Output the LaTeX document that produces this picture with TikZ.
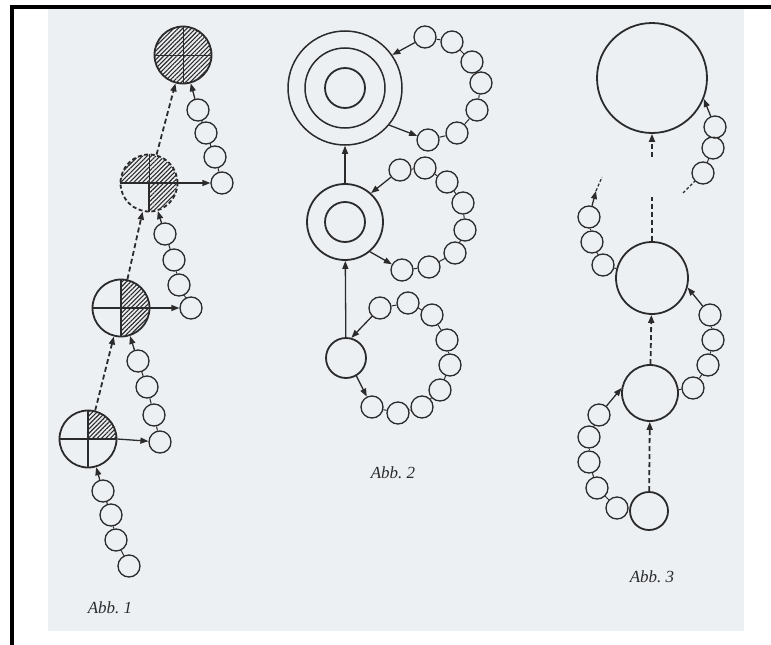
\documentclass[tikz,border=0pt]{standalone}
\usepackage{fontspec}
\newfontfamily\labfont{Liberation Serif}
\usepackage{tikz}
\usetikzlibrary{arrows.meta,positioning,calc,patterns.meta}
\definecolor{paper}{HTML}{EDF0F3}
\definecolor{ink}{HTML}{2B2B2B}

\begin{document}
\begin{tikzpicture}[x=1pt,y=-1pt,line width=1.4pt,
    bead/.style={circle,draw=ink,fill=paper,line width=1.3pt,minimum size=22pt,inner sep=0pt},
    ring/.style={circle,draw=ink,line width=1.8pt,minimum size=#1,inner sep=0pt},
    link/.style={draw=ink,line width=1pt},
    flow/.style={draw=ink,line width=1.3pt,-{Triangle[length=8pt,width=6pt]}},
    dflow/.style={flow,line width=1.8pt,dash pattern=on 5pt off 3pt},
    hatch/.style={pattern={Lines[angle=45,distance=3.1pt,line width=1.1pt]},pattern color=ink},
    lab/.style={text=ink,font=\labfont\fontsize{17}{19}\selectfont\itshape}]
  \useasboundingbox (0,0) rectangle (771,645);
  \fill[paper] (48,9) rectangle (744,631);
  \draw[black,line width=4pt] (12,645) -- (12,7) -- (771,7);

  \foreach \n/\x/\y in {k1/183/55,k3/121/308,k4/88/439}
    \node[ring=57pt] (\n) at (\x,\y) {};
  \node[ring=57pt,dash pattern=on 4pt off 2.5pt] (k2) at (149,183) {};
  \fill[hatch] (k1.center) circle[radius=28];
  \draw[ink,line width=0.6pt] (k1.north) -- (k1.south) (k1.west) -- (k1.east);
  \begin{scope}
    \clip (k2.center) circle[radius=28];
    \fill[hatch] (k2.center) rectangle ++(-30,-30) (k2.center) rectangle ++(30,-30) (k2.center) rectangle ++(30,30);
  \end{scope}
  \draw[ink] (k2.west) -- (k2.east) (k2.center) -- (k2.south);
  \draw[ink,line width=0.6pt] (k2.center) -- (k2.north);
  \begin{scope}
    \clip (k3.center) circle[radius=28];
    \fill[hatch] (k3.center) rectangle ++(30,-30) (k3.center) rectangle ++(30,30);
  \end{scope}
  \begin{scope}
    \clip (k4.center) circle[radius=28];
    \fill[hatch] (k4.center) rectangle ++(30,-30);
  \end{scope}
  \foreach \n in {k3,k4}
    \draw[ink] (\n.north) -- (\n.south) (\n.west) -- (\n.east);

  \node[ring=114pt,line width=1.5pt] (ra) at (345,88) {};
  \node[ring=80pt,line width=1.5pt] (ra2) at (ra) {};
  \node[ring=40pt] (ra3) at (ra) {};
  \node[ring=76pt] (rb) at (345,222) {};
  \node[ring=40pt] (rb2) at (rb) {};
  \node[ring=40pt] (rc) at (346,358) {};

  \node[ring=110pt] (wa) at (652,78) {};
  \node[ring=72pt] (wb) at (652,278) {};
  \node[ring=56pt] (wc) at (650,393) {};
  \node[ring=38pt] (wd) at (649,511) {};

  \foreach \ch/\m/\pts in {
      ua/4/{129/566,116/540,111/515,103/491},
      ub/4/{160/442,154/415,147/387,138/361},
      uc/4/{191/308,179/285,174/260,165/234},
      ud/4/{222/183,215/157,206/133,198/110},
      va/7/{428/140,457/133,477/110,481/83,472/62,452/42,425/37},
      vb/8/{402/270,429/267,455/253,465/230,463/203,447/182,425/168,400/170},
      vc/9/{372/407,398/413,422/407,440/390,450/365,447/340,432/315,408/303,380/308},
      xd/5/{617/508,597/488,589/462,589/437,599/415},
      xc/4/{693/388,708/365,713/340,710/315},
      xb/3/{603/265,592/242,589/217},
      xa/3/{703/173,713/148,715/127}}{
    \foreach \x/\y [count=\i] in \pts
      \node[bead] (\ch\i) at (\x,\y) {};
    \foreach \i [remember=\i as \j (initially 1)] in {2,...,\m}
      \draw[link] (\ch\j) -- (\ch\i);
  }

  \draw[flow] (ua4) -- (k4);
  \draw[flow] (k4.east) -- (ub1);
  \draw[flow] (ub4) -- (k3);
  \draw[flow] (k3.east) -- (uc1);
  \draw[flow] (uc4) -- (k2);
  \draw[flow] (k2.east) -- (ud1);
  \draw[flow] (ud4) -- (k1);
  \draw[dflow] (k4) -- (k3);
  \draw[dflow] (k3) -- (k2);
  \draw[dflow] (k2) -- (k1);

  \draw[flow] (rc) -- (rb);
  \draw[flow] (rb) -- (ra);
  \draw[flow] (ra.-40) -- (va1);
  \draw[flow] (va7) -- (ra.35);
  \draw[flow] (rb.-50) -- (vb1);
  \draw[flow] (vb8) -- (rb.48);
  \draw[flow] (rc.-60) -- (vc1);
  \draw[flow] (vc9) -- (rc.75);

  \coordinate (wg1) at (652,197);
  \coordinate (wg2) at (652,157);
  \coordinate (xt1) at (596,191);
  \coordinate (xt2) at (602,177);
  \coordinate (xt3) at (683,193);
  \draw[dflow] (wd) -- (wc);
  \draw[dflow] (wc) -- (wb);
  \draw[dflow,-] (wb) -- (wg1);
  \draw[dflow] (wg2) -- (wa);
  \draw[link] (wd) -- (xd1) (wc) -- (xc1) (wb) -- (xb1);
  \draw[flow] (xd5) -- (wc.170);
  \draw[flow] (xc4) -- (wb.-15);
  \draw[flow] (xb3) -- (xt1);
  \draw[dflow,-,line width=1.2pt,dash pattern=on 3pt off 2pt] (xt1) -- (xt2);
  \draw[dflow,-,line width=1.2pt,dash pattern=on 3pt off 2pt] (xt3) -- (xa1);
  \draw[flow] (xa3) -- (wa.-22);

  \node[lab] (t1) at (110,608) {Abb.~1};
  \node[lab] (t2) at (393,473) {Abb.~2};
  \node[lab] (t3) at (652,577) {Abb.~3};
\end{tikzpicture}
\end{document}
